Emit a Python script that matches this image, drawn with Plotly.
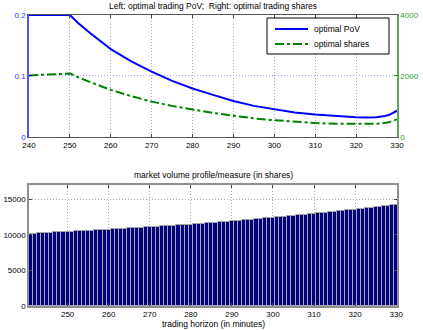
import plotly.graph_objects as go

# top panel: optimal trading PoV (left axis) and optimal shares (right axis)
minutes = [240, 245, 250, 251, 252, 255, 258, 260, 265, 270, 275, 280, 285, 290,
           295, 300, 305, 310, 315, 320, 323, 325, 327, 328, 330]
pov = [0.200, 0.200, 0.200, 0.1935, 0.187, 0.170, 0.154, 0.144, 0.124, 0.107,
       0.092, 0.0795, 0.069, 0.059, 0.051, 0.045, 0.040, 0.0367, 0.034, 0.0322,
       0.0320, 0.0325, 0.0345, 0.036, 0.043]
shares = [2020, 2050, 2080, 2025, 1960, 1800, 1640, 1545, 1340, 1160, 1020, 900,
          790, 695, 610, 550, 500, 460, 430, 420, 420, 430, 460, 480, 580]

# bottom panel: market volume per minute
bar_minutes = list(range(241, 331))
volume = [10150, 10180, 10210, 10240, 10270, 10300, 10330, 10360, 10390, 10420,
          10450, 10480, 10510, 10540, 10570, 10600, 10630, 10660, 10690, 10720,
          10750, 10790, 10820, 10860, 10890, 10920, 10960, 10990, 11030, 11060,
          11100, 11140, 11180, 11220, 11260, 11290, 11330, 11370, 11410, 11450,
          11500, 11540, 11590, 11630, 11680, 11720, 11770, 11810, 11860, 11900,
          11950, 12000, 12050, 12100, 12150, 12200, 12250, 12300, 12350, 12400,
          12460, 12510, 12570, 12620, 12680, 12730, 12790, 12840, 12900, 12950,
          13010, 13070, 13130, 13190, 13250, 13310, 13370, 13430, 13490, 13550,
          13620, 13680, 13750, 13820, 13890, 13950, 14020, 14090, 14150, 14220]

legend_labels = ["optimal PoV", "optimal shares"]

FONT = "Liberation Sans, Arial, sans-serif"
BLUE = "#0000ff"
GREEN = "#008000"
GRID = "#a8a8a8"
DOTS = "1px,2px"

fig = go.Figure()

fig.add_trace(go.Scatter(x=minutes, y=pov, mode="lines", name=legend_labels[0],
                         line=dict(color=BLUE, width=2), xaxis="x", yaxis="y",
                         showlegend=False))
fig.add_trace(go.Scatter(x=minutes, y=shares, mode="lines", name=legend_labels[1],
                         line=dict(color=GREEN, width=2, dash="dashdot"),
                         xaxis="x", yaxis="y2", showlegend=False))
fig.add_trace(go.Bar(x=bar_minutes, y=volume, width=1.0, showlegend=False,
                     marker=dict(color="#000080", line=dict(color="#a8a8a8", width=1)),
                     xaxis="x2", yaxis="y3"))

tick_font = dict(family=FONT, size=8, color="#000000")
title_font = dict(family=FONT, size=8.5, color="#000000")

# legend box drawn by hand (matlab-style, opaque, tight)
lx0, lx1, ly0, ly1 = 0.6467, 0.9783, 0.866, 0.9897
shapes = [
    dict(type="rect", xref="paper", yref="paper", x0=lx0, x1=lx1, y0=ly0, y1=ly1,
         fillcolor="white", line=dict(color="#000000", width=1), layer="above"),
    dict(type="line", xref="paper", yref="paper", x0=0.6685, x1=0.7582,
         y0=0.9519, y1=0.9519, line=dict(color=BLUE, width=2), layer="above"),
    dict(type="line", xref="paper", yref="paper", x0=0.6685, x1=0.7582,
         y0=0.9003, y1=0.9003, line=dict(color=GREEN, width=2, dash="dashdot"),
         layer="above"),
]

fig.update_layout(
    width=423, height=330,
    margin=dict(l=29, r=26, t=15, b=24),
    paper_bgcolor="white", plot_bgcolor="white",
    font=dict(family=FONT, size=8, color="#000000"),
    bargap=0,
    showlegend=False,
    shapes=shapes,
    xaxis=dict(domain=[0, 1], anchor="y", range=[240, 330], dtick=10,
               ticks="inside", ticklen=3, tickcolor="#444", tickfont=tick_font,
               showline=True, linecolor="#555", linewidth=1, mirror="ticks",
               showgrid=True, gridcolor=GRID, griddash=DOTS, gridwidth=1,
               zeroline=False, automargin=False),
    yaxis=dict(domain=[0.5808, 1], anchor="x", range=[0, 0.2], tickvals=[0, 0.1, 0.2],
               ticktext=["0", "0.1", "0.2"], ticks="inside", ticklen=3,
               tickcolor=BLUE, tickfont=dict(family=FONT, size=8, color="#3333ff"),
               showline=True, linecolor="#5050ff", linewidth=1.5,
               showgrid=True, gridcolor="#a0a0ff", griddash=DOTS, gridwidth=1,
               zeroline=False, automargin=False),
    yaxis2=dict(overlaying="y", side="right", anchor="x", range=[0, 4000],
                tickvals=[0, 2000, 4000], tickformat="d", ticks="inside", ticklen=3,
                tickcolor=GREEN, tickfont=dict(family=FONT, size=8, color="#2e9e2e"),
                showline=True, linecolor="#55aa55", linewidth=1.5,
                showgrid=False, zeroline=False, automargin=False),
    xaxis2=dict(domain=[0, 1], anchor="y3", range=[240.6, 330.2],
                tickvals=[250, 260, 270, 280, 290, 300, 310, 320, 330],
                ticks="inside", ticklen=3, tickcolor="#444", tickfont=tick_font,
                showline=True, linecolor="#909090", linewidth=1.5, mirror="ticks",
                showgrid=True, gridcolor=GRID, griddash=DOTS, gridwidth=1,
                zeroline=False, automargin=False),
    yaxis3=dict(domain=[0, 0.4158], anchor="x2", range=[0, 17000],
                tickvals=[0, 5000, 10000, 15000], tickformat="d", ticks="inside", ticklen=3,
                tickcolor="#444", tickfont=tick_font,
                showline=True, linecolor="#909090", linewidth=1.5, mirror="ticks",
                showgrid=True, gridcolor=GRID, griddash=DOTS, gridwidth=1,
                zeroline=False, automargin=False),
    annotations=[
        dict(text="Left: optimal trading PoV;  Right: optimal trading shares",
             xref="paper", yref="paper", x=0.5, y=1.0, yshift=2,
             xanchor="center", yanchor="bottom", showarrow=False, font=title_font),
        dict(text="market volume profile/measure (in shares)",
             xref="paper", yref="paper", x=0.5, y=0.4158, yshift=3,
             xanchor="center", yanchor="bottom", showarrow=False, font=title_font),
        dict(text="trading horizon (in minutes)",
             xref="paper", yref="paper", x=0.5, y=0, yshift=-11,
             xanchor="center", yanchor="top", showarrow=False, font=title_font),
        dict(text=legend_labels[0], xref="paper", yref="paper", x=0.769, y=0.9519,
             xanchor="left", yanchor="middle", showarrow=False, font=title_font),
        dict(text=legend_labels[1], xref="paper", yref="paper", x=0.769, y=0.9003,
             xanchor="left", yanchor="middle", showarrow=False, font=title_font),
    ],
)

fig.write_html("out.html", config={"displayModeBar": False},
               post_script="document.body.style.margin='0px';")
